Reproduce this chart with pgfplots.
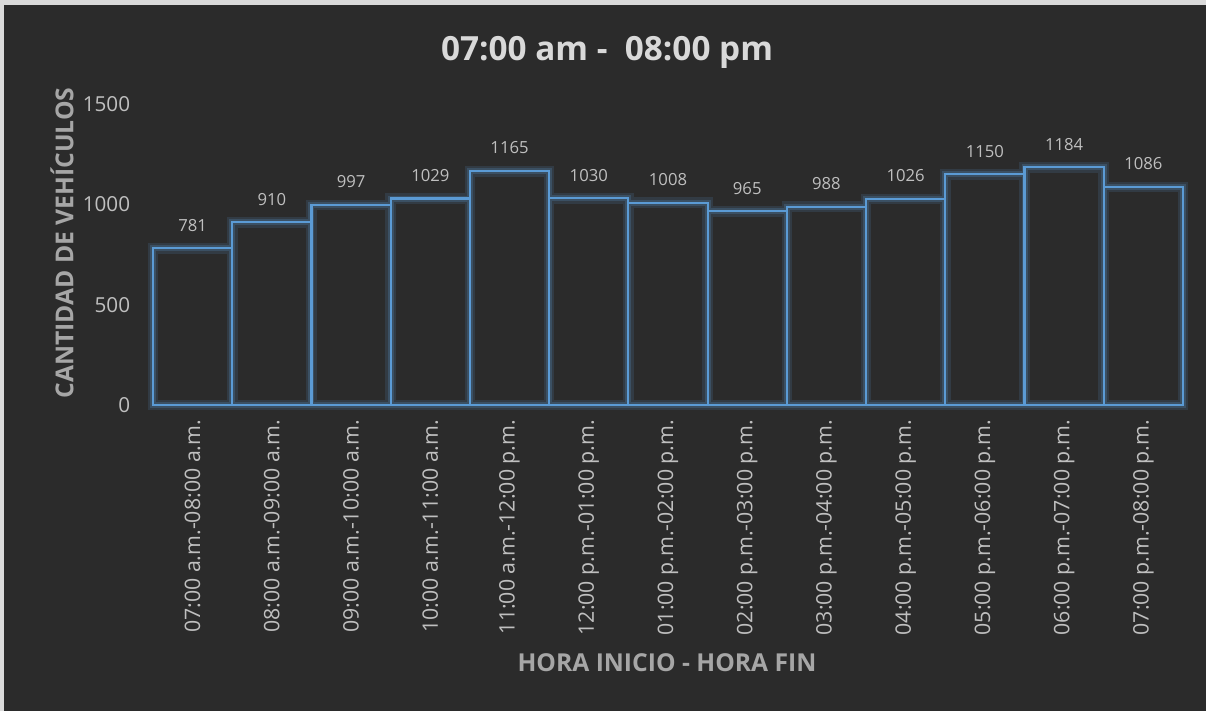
\documentclass[border=0pt]{standalone}
\usepackage{pgfplots}
\pgfplotsset{compat=1.18}
\usepackage{fontspec}
\setmainfont{Open Sans}
\definecolor{bg}{HTML}{2B2B2B}
\definecolor{bord}{HTML}{DADADA}
\definecolor{barline}{HTML}{5B9BD5}
\definecolor{titlec}{HTML}{D9D9D9}
\definecolor{tickc}{HTML}{BFBFBF}
\definecolor{labc}{HTML}{A6A6A6}
\pgfplotstableread{
x y
0 781
1 910
2 997
3 1029
4 1165
5 1030
6 1008
7 965
8 988
9 1026
10 1150
11 1184
12 1086
}\datatab
\begin{document}
\begin{tikzpicture}
\fill[bord] (0pt,0pt) rectangle (904.5pt,533.25pt);
\fill[bg] (3pt,0pt) rectangle (904.5pt,529.5pt);
\useasboundingbox (0pt,0pt) rectangle (904.5pt,533.25pt);
\node[font=\fontsize{25}{30}\selectfont\bfseries, text=titlec] at (455.25pt,494.25pt) {07:00 am -\ \ 08:00 pm};
\node[font=\fontsize{18.5}{22}\selectfont\bfseries, text=labc] at (500.25pt,36pt) {HORA INICIO - HORA FIN};
\node[font=\fontsize{18.5}{22}\selectfont\bfseries, text=labc, rotate=90] at (46.5pt,351pt) {CANTIDAD DE VEHÍCULOS};
\begin{axis}[
  at={(114.75pt,229.5pt)}, anchor=south west,
  scale only axis,
  width=772.5pt, height=225.75pt,
  xmin=-0.5, xmax=12.5, ymin=0, ymax=1500,
  clip=false,
  axis line style={draw=none},
  major tick length=0pt,
  ytick={0,500,1000,1500},
  xtick={0,...,12},
  xticklabels={07:00 a.m.-08:00 a.m.,08:00 a.m.-09:00 a.m.,09:00 a.m.-10:00 a.m.,10:00 a.m.-11:00 a.m.,11:00 a.m.-12:00 p.m.,12:00 p.m.-01:00 p.m.,01:00 p.m.-02:00 p.m.,02:00 p.m.-03:00 p.m.,03:00 p.m.-04:00 p.m.,04:00 p.m.-05:00 p.m.,05:00 p.m.-06:00 p.m.,06:00 p.m.-07:00 p.m.,07:00 p.m.-08:00 p.m.},
  /pgf/number format/assume math mode=true,
  /pgf/number format/set thousands separator={},
  yticklabel style={font=\fontsize{15.5}{18}\selectfont, text=tickc, anchor=east, inner sep=0pt},
  yticklabel shift=17pt,
  xticklabel style={font=\fontsize{16}{19}\selectfont, text=tickc, rotate=90, anchor=east, inner sep=0pt},
  xticklabel shift=11pt,
]
\addplot[ybar, bar width=1, bar shift=0pt, fill=bg, draw=none] table[x=x,y=y] {\datatab};
\addplot[ybar, bar width=1, bar shift=0pt, draw=barline, draw opacity=0.15, line width=8pt, fill=none] table[x=x,y=y] {\datatab};
\addplot[ybar, bar width=1, bar shift=0pt, draw=barline, draw opacity=0.22, line width=4.5pt, fill=none] table[x=x,y=y] {\datatab};
\addplot[ybar, bar width=1, bar shift=0pt, draw=barline, line width=1.6pt, fill=none,
  nodes near coords, every node near coord/.append style={font=\fontsize{12.5}{15}\selectfont, text=tickc, anchor=south, inner sep=0pt, yshift=12pt},
  /pgf/number format/set thousands separator={}] table[x=x,y=y] {\datatab};
\end{axis}
\end{tikzpicture}
\end{document}
